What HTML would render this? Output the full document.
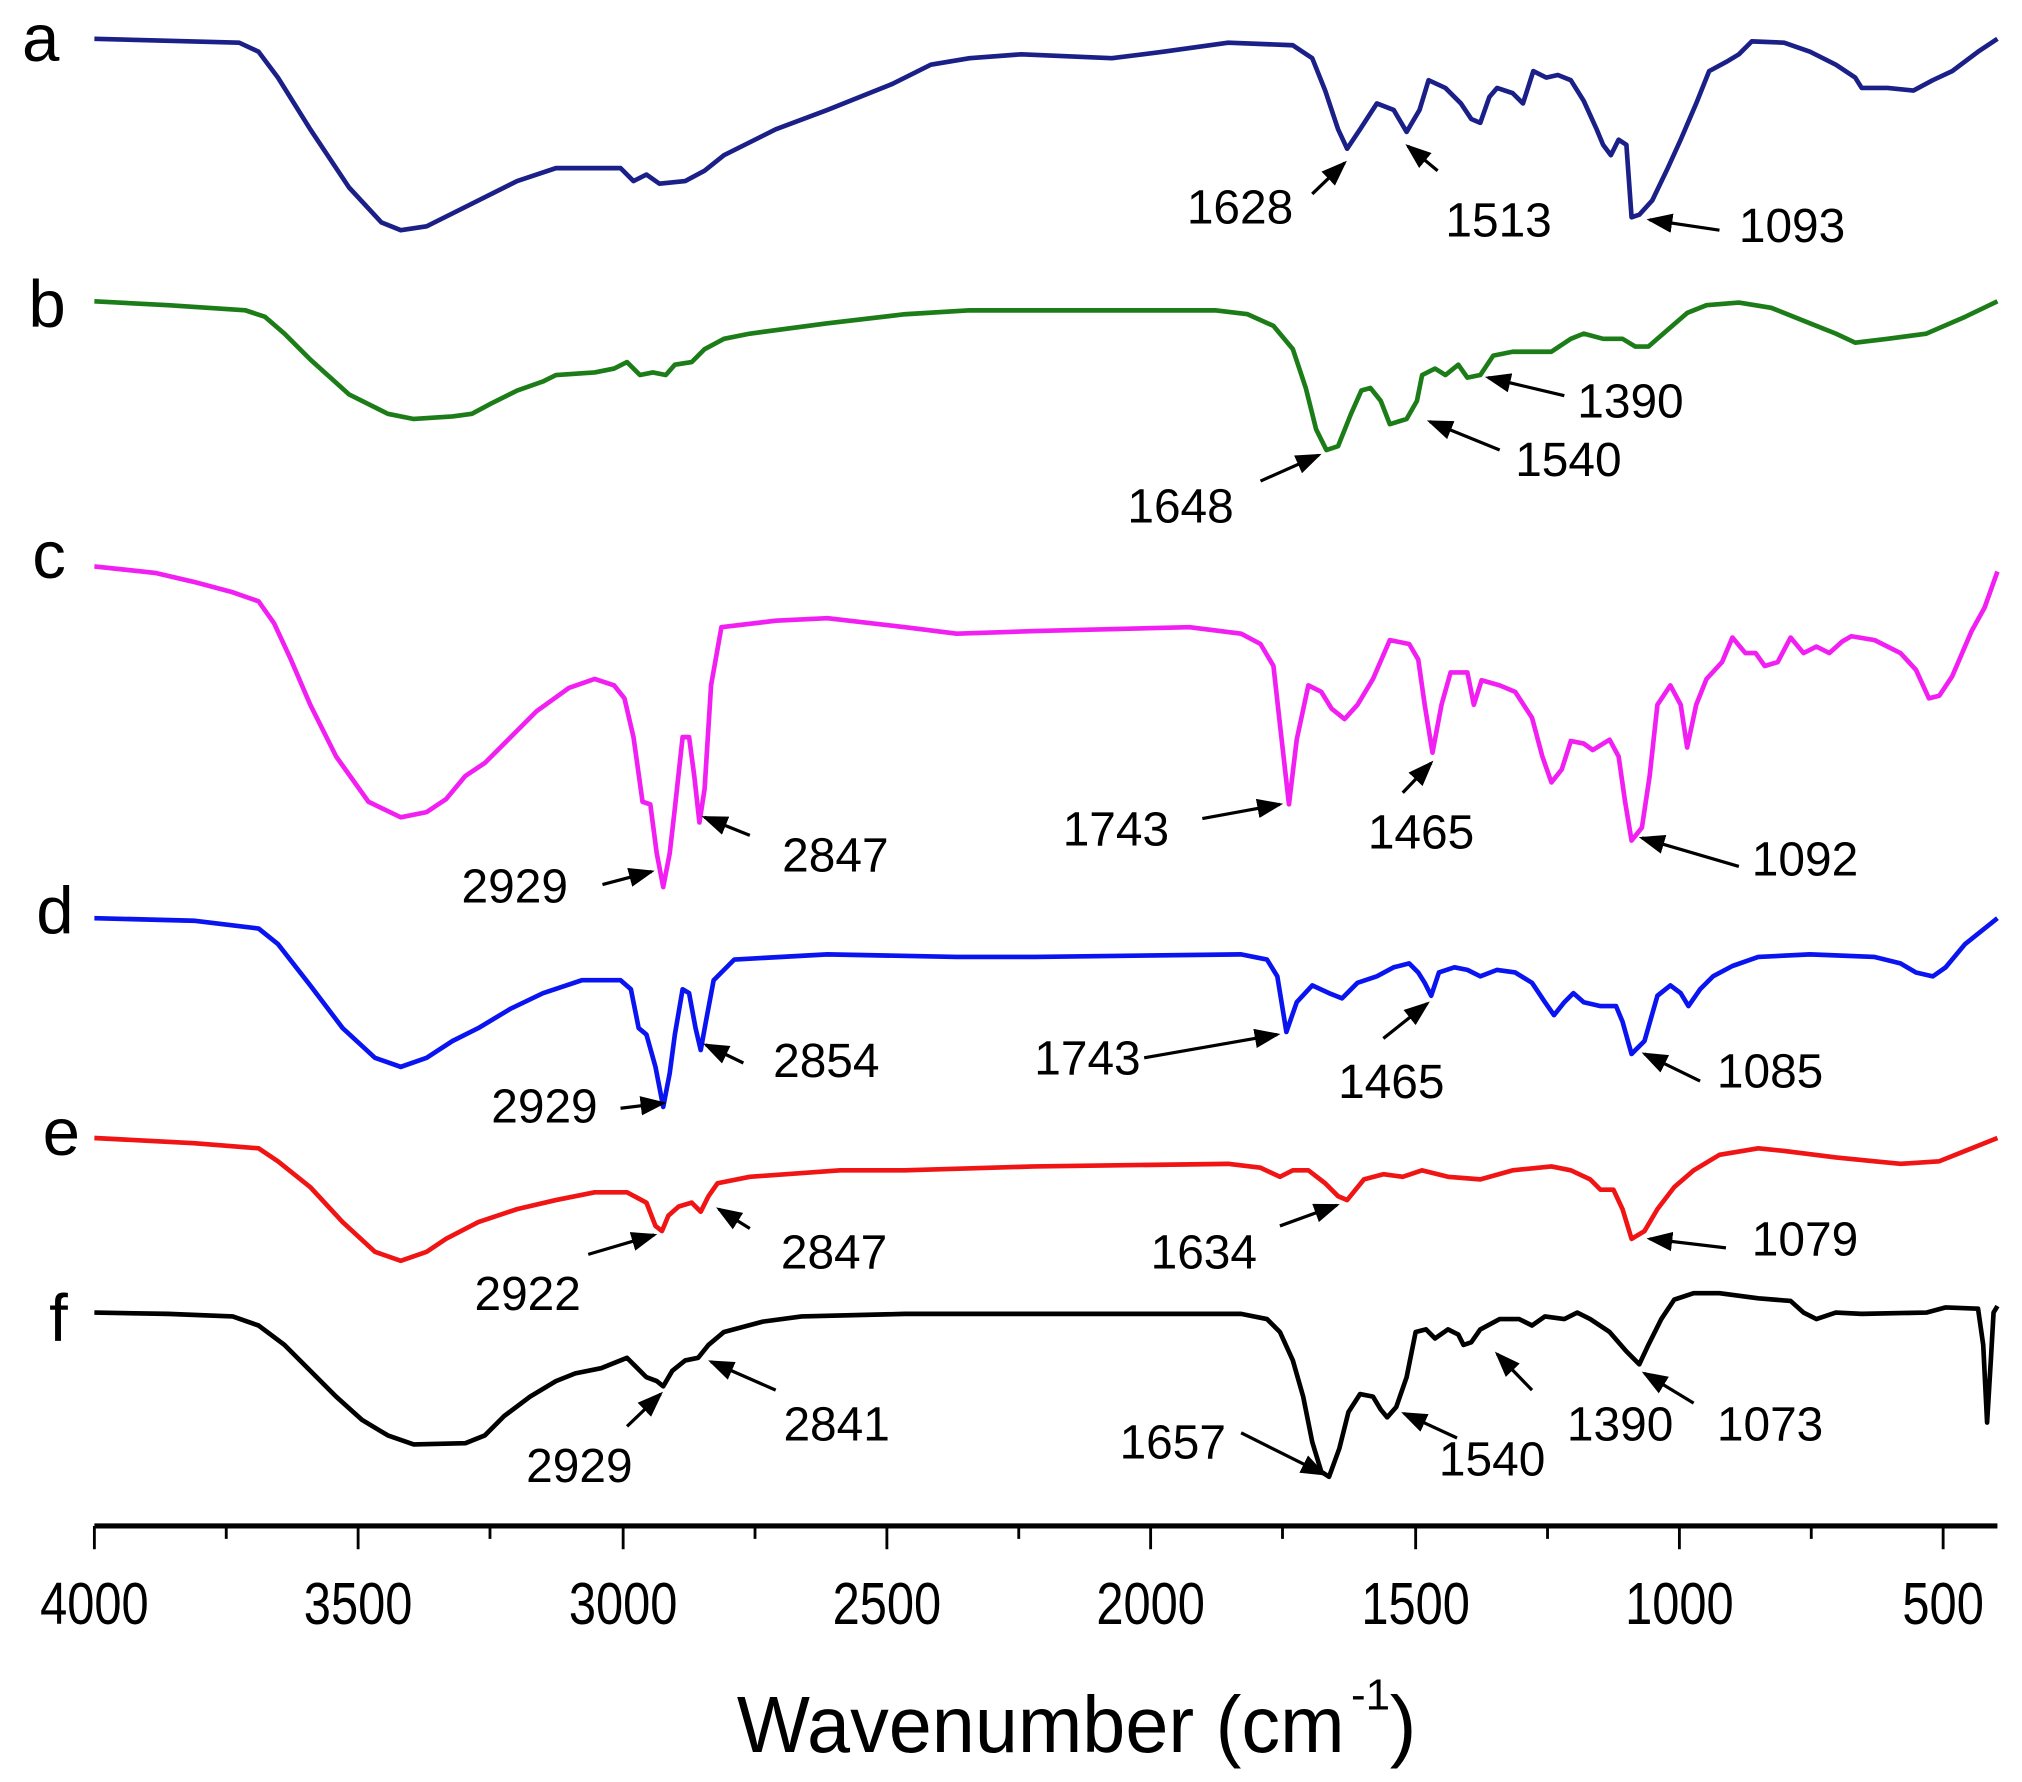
<!DOCTYPE html>
<html><head><meta charset="utf-8"><style>
html,body{margin:0;padding:0;background:#fff;}
svg{display:block;}
text{font-family:"Liberation Sans",Arial,sans-serif;}
</style></head><body>
<svg width="2022" height="1782" viewBox="0 0 1564 1378" preserveAspectRatio="none" xmlns="http://www.w3.org/2000/svg">
<defs>
<marker id="ah" markerWidth="8" markerHeight="6" refX="7" refY="3" orient="auto" markerUnits="strokeWidth">
<path d="M0,0 L8,3 L0,6 Z" fill="#000"/>
</marker>
</defs>
<rect width="1564" height="1378" fill="#fff"/>
<g fill="none" stroke-width="3.6" stroke-linejoin="round">
<polyline stroke="#1b1f88" points="73,30 185,33 200,40 215,60 240,100 270,145 295,172 310,178 330,175 360,160 400,140 430,130 480,130 490,140 500,135 510,142 530,140 545,132 560,120 600,100 640,85 690,65 720,50 750,45 790,42 860,45 900,40 950,33 1000,35 1015,45 1025,70 1035,100 1042,115 1052,100 1065,80 1078,85 1088,102 1098,85 1105,62 1118,68 1130,80 1138,92 1145,95 1152,75 1158,68 1170,72 1178,80 1186,55 1196,60 1205,58 1215,62 1225,78 1235,100 1240,112 1246,120 1252,108 1258,112 1262,168 1268,166 1278,155 1290,130 1300,108 1312,80 1322,55 1335,48 1345,42 1355,32 1380,33 1400,40 1420,50 1435,60 1440,68 1460,68 1480,70 1495,62 1510,55 1530,40 1545,30"/>
<polyline stroke="#1c7d18" points="73,233 130,236 190,240 205,245 220,258 240,278 270,305 300,320 320,324 350,322 365,320 380,312 400,302 420,295 430,290 460,288 475,285 485,280 495,290 505,288 515,290 522,282 535,280 545,270 560,262 580,258 640,250 700,243 750,240 850,240 940,240 965,243 985,252 1000,270 1010,300 1018,332 1026,348 1035,345 1045,320 1053,302 1060,300 1068,310 1075,328 1088,324 1096,310 1100,290 1110,285 1118,290 1128,282 1135,292 1145,290 1155,275 1170,272 1200,272 1215,262 1225,258 1240,262 1255,262 1265,268 1275,268 1290,255 1305,242 1320,236 1345,234 1370,238 1400,250 1420,258 1435,265 1460,262 1490,258 1520,245 1545,233"/>
<polyline stroke="#f21ff2" points="73,438 120,443 150,450 180,458 200,465 212,482 225,510 240,545 260,585 285,620 310,632 330,628 345,618 360,600 375,590 395,570 415,550 440,532 460,525 475,530 483,540 490,570 497,620 503,622 508,660 513,686 518,660 522,625 528,570 533,570 537,600 541,636 545,610 550,530 558,485 600,480 640,478 700,485 740,490 800,488 920,485 960,490 975,498 985,515 990,560 997,622 1003,572 1012,530 1022,535 1030,548 1040,556 1050,545 1062,525 1075,495 1090,498 1097,510 1102,545 1108,582 1115,545 1122,520 1135,520 1140,545 1146,526 1160,530 1172,535 1185,555 1193,585 1200,605 1208,595 1215,573 1225,575 1232,580 1245,572 1252,585 1257,620 1262,650 1270,640 1276,600 1282,545 1292,530 1300,545 1305,578 1312,545 1320,525 1332,512 1340,493 1350,505 1358,505 1365,515 1375,512 1385,493 1395,505 1405,500 1415,505 1425,496 1432,492 1450,495 1470,505 1482,518 1492,540 1500,538 1510,523 1525,488 1535,470 1545,442"/>
<polyline stroke="#0a14f0" points="73,710 150,712 200,718 215,730 240,762 265,795 290,818 310,825 330,818 350,805 370,795 395,780 420,768 450,758 480,758 488,765 494,795 500,800 507,825 513,856 518,830 522,800 528,765 533,768 538,795 542,812 546,790 552,758 568,742 640,738 740,740 800,740 960,738 980,742 988,755 995,798 1003,775 1015,762 1028,768 1038,772 1050,760 1065,755 1078,748 1090,745 1097,752 1102,760 1107,770 1113,752 1125,748 1135,750 1145,755 1158,750 1172,752 1185,760 1195,775 1202,785 1210,775 1217,768 1225,775 1238,778 1250,778 1255,790 1262,815 1272,805 1282,770 1292,762 1300,768 1306,778 1315,765 1325,755 1340,747 1360,740 1400,738 1450,740 1470,745 1482,752 1495,755 1505,748 1520,730 1545,710"/>
<polyline stroke="#f01414" points="73,880 150,884 200,888 215,898 240,918 265,945 290,968 310,975 330,968 345,958 370,945 400,935 430,928 460,922 485,922 500,930 507,948 512,952 517,940 525,933 535,930 542,937 548,925 555,915 580,910 650,905 700,905 800,902 950,900 975,903 990,910 1000,905 1012,905 1025,915 1035,925 1042,928 1055,912 1070,908 1085,910 1100,905 1120,910 1145,912 1170,905 1200,902 1215,905 1230,912 1238,920 1248,920 1255,935 1262,958 1272,952 1282,935 1295,918 1310,905 1330,893 1360,888 1380,890 1420,895 1450,898 1470,900 1500,898 1520,890 1545,880"/>
<polyline stroke="#000" points="73,1015 130,1016 180,1018 200,1025 220,1040 240,1060 260,1080 280,1098 300,1110 320,1117 360,1116 375,1110 390,1095 410,1080 430,1068 445,1062 465,1058 485,1050 493,1058 500,1065 508,1068 513,1072 520,1060 530,1052 540,1050 548,1040 560,1030 590,1022 620,1018 700,1016 960,1016 980,1020 990,1030 1000,1052 1008,1080 1015,1115 1022,1138 1028,1142 1036,1120 1043,1092 1052,1078 1062,1080 1068,1090 1073,1096 1080,1088 1088,1065 1095,1030 1103,1028 1110,1035 1120,1028 1128,1032 1132,1040 1138,1038 1145,1028 1160,1020 1175,1020 1185,1025 1195,1018 1210,1020 1220,1015 1230,1020 1245,1030 1258,1045 1268,1055 1275,1040 1285,1020 1295,1005 1310,1000 1330,1000 1360,1004 1385,1006 1395,1015 1405,1020 1420,1015 1440,1016 1490,1015 1505,1011 1530,1012 1534,1040 1537,1100 1540,1050 1542,1015 1545,1010"/>
</g>
<g stroke="#000">
<line x1="73" y1="1180" x2="1545" y2="1180" stroke-width="4"/>
<g stroke-width="2.2">
<line x1="73" y1="1180" x2="73" y2="1198"/><line x1="175" y1="1180" x2="175" y2="1190"/>
<line x1="277" y1="1180" x2="277" y2="1198"/><line x1="379" y1="1180" x2="379" y2="1190"/>
<line x1="482" y1="1180" x2="482" y2="1198"/><line x1="584" y1="1180" x2="584" y2="1190"/>
<line x1="686" y1="1180" x2="686" y2="1198"/><line x1="788" y1="1180" x2="788" y2="1190"/>
<line x1="890" y1="1180" x2="890" y2="1198"/><line x1="992" y1="1180" x2="992" y2="1190"/>
<line x1="1095" y1="1180" x2="1095" y2="1198"/><line x1="1197" y1="1180" x2="1197" y2="1190"/>
<line x1="1299" y1="1180" x2="1299" y2="1198"/><line x1="1401" y1="1180" x2="1401" y2="1190"/>
<line x1="1503" y1="1180" x2="1503" y2="1198"/>
</g>
</g>
<g font-size="46" text-anchor="middle" fill="#000">
<text x="73" y="1256" textLength="84" lengthAdjust="spacingAndGlyphs">4000</text>
<text x="277" y="1256" textLength="84" lengthAdjust="spacingAndGlyphs">3500</text>
<text x="482" y="1256" textLength="84" lengthAdjust="spacingAndGlyphs">3000</text>
<text x="686" y="1256" textLength="84" lengthAdjust="spacingAndGlyphs">2500</text>
<text x="890" y="1256" textLength="84" lengthAdjust="spacingAndGlyphs">2000</text>
<text x="1095" y="1256" textLength="84" lengthAdjust="spacingAndGlyphs">1500</text>
<text x="1299" y="1256" textLength="84" lengthAdjust="spacingAndGlyphs">1000</text>
<text x="1503" y="1256" textLength="63" lengthAdjust="spacingAndGlyphs">500</text>
</g>
<text x="570" y="1355" font-size="62" textLength="470" lengthAdjust="spacingAndGlyphs">Wavenumber (cm</text>
<text x="1045" y="1322" font-size="34">-1</text>
<text x="1075" y="1355" font-size="62">)</text>
<g font-size="52" fill="#000">
<text x="17" y="47">a</text><text x="22" y="253">b</text><text x="25" y="447">c</text>
<text x="28" y="722">d</text><text x="33" y="893">e</text><text x="38" y="1037">f</text>
</g>
<g font-size="37" fill="#000">
<text x="918" y="173">1628</text><text x="1118" y="183">1513</text><text x="1345" y="187">1093</text>
<text x="872" y="404">1648</text><text x="1172" y="368">1540</text><text x="1220" y="323">1390</text>
<text x="822" y="654">1743</text><text x="357" y="698">2929</text><text x="605" y="674">2847</text>
<text x="1058" y="656">1465</text><text x="1355" y="677">1092</text>
<text x="800" y="831">1743</text><text x="380" y="868">2929</text><text x="598" y="833">2854</text>
<text x="1035" y="849">1465</text><text x="1328" y="841">1085</text>
<text x="367" y="1013">2922</text><text x="604" y="981">2847</text><text x="890" y="981">1634</text><text x="1355" y="971">1079</text>
<text x="407" y="1146">2929</text><text x="606" y="1114">2841</text><text x="866" y="1128">1657</text>
<text x="1113" y="1141">1540</text><text x="1212" y="1114">1390</text><text x="1328" y="1114">1073</text>
</g>
<g stroke="#000" stroke-width="2.5" marker-end="url(#ah)">
<line x1="1015" y1="150" x2="1040" y2="126"/>
<line x1="1112" y1="132" x2="1089" y2="113"/>
<line x1="1330" y1="178" x2="1276" y2="170"/>
<line x1="975" y1="372" x2="1020" y2="352"/>
<line x1="1160" y1="348" x2="1106" y2="326"/>
<line x1="1210" y1="306" x2="1151" y2="292"/>
<line x1="930" y1="633" x2="990" y2="622"/>
<line x1="466" y1="684" x2="504" y2="674"/>
<line x1="580" y1="646" x2="545" y2="632"/>
<line x1="1085" y1="613" x2="1107" y2="590"/>
<line x1="1345" y1="670" x2="1270" y2="648"/>
<line x1="885" y1="818" x2="988" y2="800"/>
<line x1="480" y1="857" x2="513" y2="853"/>
<line x1="575" y1="822" x2="546" y2="808"/>
<line x1="1070" y1="803" x2="1104" y2="776"/>
<line x1="1315" y1="836" x2="1272" y2="815"/>
<line x1="455" y1="970" x2="506" y2="955"/>
<line x1="580" y1="950" x2="556" y2="935"/>
<line x1="990" y1="948" x2="1034" y2="932"/>
<line x1="1335" y1="965" x2="1276" y2="958"/>
<line x1="485" y1="1103" x2="511" y2="1078"/>
<line x1="600" y1="1075" x2="550" y2="1053"/>
<line x1="960" y1="1108" x2="1024" y2="1140"/>
<line x1="1127" y1="1112" x2="1086" y2="1093"/>
<line x1="1185" y1="1075" x2="1158" y2="1047"/>
<line x1="1310" y1="1085" x2="1272" y2="1062"/>
</g>
</svg>
</body></html>
